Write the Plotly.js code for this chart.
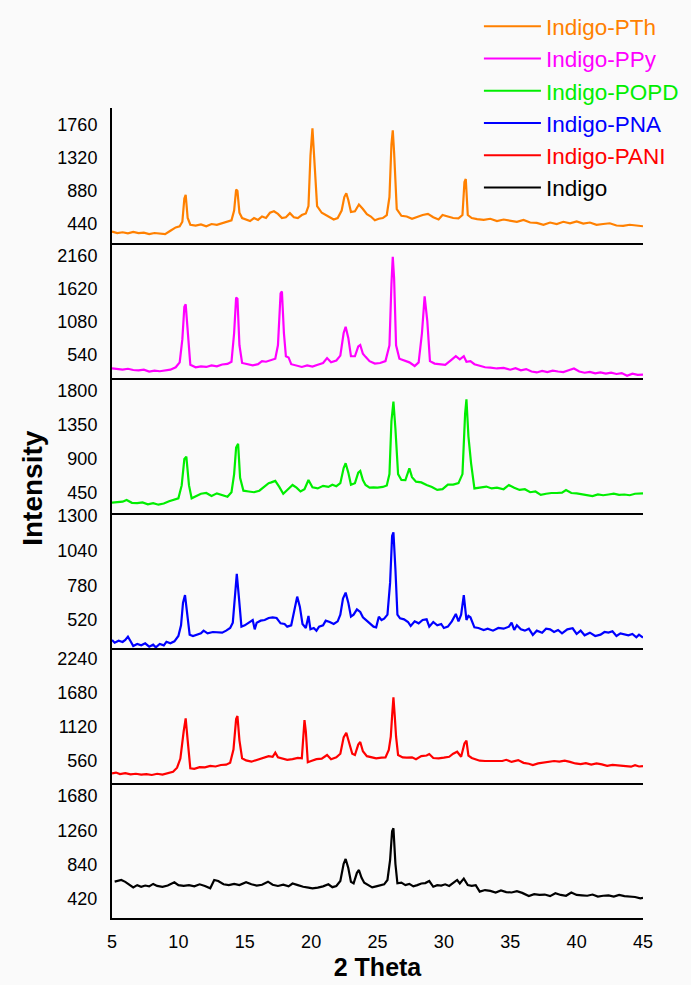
<!DOCTYPE html>
<html>
<head>
<meta charset="utf-8">
<script src="https://cdn.plot.ly/plotly-3.0.1.min.js"></script>
<style>html,body{margin:0;padding:0;background:#FAFAFA;}#chart{width:691px;height:985px;}</style>
</head>
<body>
<div id="chart"></div>
<script>
// ---- Data ----
const seriesNames = ["Indigo-PTh", "Indigo-PPy", "Indigo-POPD", "Indigo-PNA", "Indigo-PANI", "Indigo"];
const seriesColors = ["#FF8000", "#FF00FF", "#00EE00", "#0000FF", "#FF0000", "#000000"];

const xTickVals = [5, 10, 15, 20, 25, 30, 35, 40, 45];

const pthTicks = [440, 880, 1320, 1760];
const ppyTicks = [540, 1080, 1620, 2160];
const popdTicks = [450, 900, 1350, 1800];
const pnaTicks = [520, 780, 1040, 1300];
const paniTicks = [560, 1120, 1680, 2240];
const indigoTicks = [420, 840, 1260, 1680];

const pthX = [5.0,5.4,5.8,6.2,6.6,7.0,7.4,7.8,8.2,8.6,9.0,9.4,9.8,10.1,10.3,10.45,10.55,10.7,10.9,11.3,11.7,12.1,12.5,12.9,13.3,13.7,14.0,14.2,14.35,14.45,14.6,14.8,15.1,15.4,15.7,16.0,16.3,16.6,16.9,17.2,17.5,17.8,18.1,18.4,18.7,19.0,19.3,19.6,19.8,19.95,20.1,20.25,20.45,20.8,21.1,21.4,21.7,22.0,22.3,22.5,22.65,22.8,23.0,23.3,23.6,23.9,24.2,24.5,24.8,25.1,25.4,25.7,25.9,26.05,26.15,26.25,26.45,26.8,27.2,27.6,28.0,28.4,28.8,29.2,29.6,29.9,30.3,30.7,31.1,31.4,31.55,31.65,31.8,32.1,32.5,33.0,33.5,34.0,34.5,35.0,35.5,36.0,36.5,37.0,37.5,38.0,38.5,39.0,39.5,40.0,40.5,41.0,41.5,42.0,42.5,43.0,43.5,44.0,44.5,45.0];
const pthY = [340,320,330,315,335,320,325,305,320,310,305,350,395,410,470,780,830,520,430,420,435,410,440,430,455,470,490,620,900,880,590,520,505,480,520,495,540,520,590,610,575,520,530,585,530,520,560,580,680,1350,1716,1300,680,590,560,540,500,520,620,800,849,760,600,610,700,640,570,540,490,510,520,560,800,1500,1690,1400,640,550,540,510,540,560,575,530,500,560,540,520,515,560,1000,1040,560,520,505,495,510,480,500,490,470,495,460,455,430,460,440,470,450,475,445,460,430,440,450,420,415,430,425,410];

const ppyX = [5.0,5.4,5.8,6.2,6.6,7.0,7.4,7.8,8.2,8.6,9.0,9.4,9.8,10.1,10.3,10.45,10.55,10.7,10.9,11.3,11.7,12.1,12.5,12.9,13.3,13.7,14.0,14.2,14.35,14.45,14.6,14.8,15.2,15.6,16.0,16.3,16.6,17.0,17.3,17.5,17.7,17.8,17.95,18.1,18.3,18.5,18.9,19.3,19.7,20.1,20.5,20.9,21.2,21.5,21.9,22.2,22.45,22.6,22.8,23.0,23.3,23.55,23.7,23.9,24.1,24.4,24.8,25.2,25.6,25.9,26.05,26.15,26.25,26.4,26.65,27.0,27.4,27.8,28.1,28.35,28.55,28.75,28.95,29.3,29.7,30.1,30.5,30.9,31.2,31.5,31.7,32.0,32.3,32.7,33.1,33.5,34.0,34.5,35.0,35.4,35.8,36.2,36.6,37.0,37.4,37.8,38.2,38.6,39.0,39.4,39.8,40.2,40.6,41.0,41.4,41.8,42.2,42.6,43.0,43.4,43.8,44.2,44.6,45.0];
const ppyY = [322,310,300,315,295,290,300,270,285,275,290,300,340,420,800,1330,1370,900,380,340,355,345,370,355,385,395,430,900,1480,1460,700,410,390,370,390,440,430,460,480,700,1550,1580,900,520,500,390,370,345,370,350,380,410,490,420,450,530,900,1003,820,520,520,680,704,560,510,440,400,410,440,700,1700,2148,1800,700,480,450,420,360,420,900,1500,1100,440,400,390,380,450,520,470,520,430,440,390,360,340,335,320,330,300,325,290,310,270,255,280,260,285,270,260,290,320,270,250,265,240,255,235,250,230,245,200,235,215,220];

const popdX = [5.0,5.4,5.8,6.1,6.5,6.9,7.3,7.7,8.1,8.5,8.9,9.3,9.7,10.0,10.25,10.45,10.6,10.8,11.0,11.3,11.7,12.1,12.5,12.9,13.3,13.7,14.0,14.2,14.35,14.5,14.65,14.9,15.3,15.7,16.1,16.5,16.8,17.0,17.3,17.6,17.9,18.2,18.6,18.9,19.2,19.5,19.8,20.1,20.5,20.9,21.3,21.6,21.9,22.2,22.45,22.6,22.8,23.0,23.3,23.55,23.7,23.9,24.1,24.4,24.7,25.0,25.4,25.7,25.9,26.05,26.2,26.35,26.55,26.8,27.1,27.4,27.6,27.9,28.3,28.7,29.1,29.5,29.9,30.3,30.7,31.1,31.4,31.6,31.7,31.85,32.05,32.3,32.7,33.2,33.6,34.0,34.5,34.9,35.3,35.7,36.1,36.5,36.9,37.3,37.7,38.1,38.5,38.9,39.2,39.6,40.0,40.4,40.8,41.2,41.6,42.0,42.4,42.8,43.2,43.6,44.0,44.4,45.0];
const popdY = [322,330,335,357,320,315,325,300,315,295,310,340,360,380,550,900,930,550,380,410,440,450,410,445,420,400,460,700,1050,1100,650,480,470,460,480,540,580,590,610,530,440,490,556,520,470,500,622,525,510,545,530,560,540,580,780,843,720,560,580,720,741,620,556,520,525,520,530,550,700,1400,1659,1300,700,622,620,777,660,600,590,556,530,490,500,560,560,580,700,1500,1690,1200,843,510,520,535,510,520,500,556,520,490,500,460,470,424,440,450,450,455,490,450,445,430,420,410,430,420,430,440,425,430,420,440,446];

const pnaX = [5.0,5.2,5.5,5.8,6.0,6.2,6.4,6.6,6.9,7.2,7.5,7.8,8.1,8.3,8.6,8.9,9.1,9.4,9.7,10.0,10.2,10.35,10.5,10.65,10.85,11.1,11.4,11.7,11.9,12.2,12.6,13.0,13.3,13.6,13.9,14.1,14.25,14.4,14.55,14.75,15.0,15.3,15.6,15.75,15.9,16.2,16.5,16.8,17.1,17.4,17.7,18.0,18.2,18.5,18.75,18.95,19.15,19.35,19.6,19.8,19.95,20.2,20.4,20.6,20.9,21.1,21.4,21.7,22.0,22.2,22.4,22.6,22.8,23.0,23.2,23.45,23.7,23.9,24.1,24.4,24.7,24.9,25.1,25.3,25.5,25.75,25.95,26.1,26.2,26.35,26.5,26.7,27.0,27.3,27.5,27.8,28.1,28.4,28.7,28.9,29.2,29.5,29.8,30.0,30.3,30.6,30.9,31.1,31.3,31.5,31.7,31.85,32.0,32.3,32.6,33.0,33.3,33.7,34.1,34.5,34.9,35.1,35.3,35.5,35.8,36.1,36.4,36.7,37.0,37.4,37.7,38.0,38.3,38.6,38.9,39.3,39.7,40.0,40.3,40.6,41.0,41.4,41.8,42.1,42.4,42.7,43.0,43.3,43.6,43.9,44.2,44.5,44.7,45.0];
const pnaY = [370,350,365,355,370,395,360,325,340,330,345,320,335,315,340,330,357,345,360,400,480,650,707,580,410,400,410,420,440,420,430,430,425,440,460,500,720,865,700,470,480,500,520,450,500,515,520,535,540,535,495,490,470,480,600,695,620,490,460,550,450,460,440,470,480,515,505,490,510,560,680,725,650,545,560,600,580,540,523,495,470,465,545,520,530,560,800,1150,1177,900,560,532,525,505,475,510,495,520,525,470,505,480,490,460,470,510,565,510,560,707,520,550,540,465,460,445,455,440,460,455,470,500,445,480,450,440,455,408,440,425,455,450,430,445,420,450,458,415,440,405,425,400,410,430,425,435,400,420,410,405,415,390,410,388];

const paniX = [5.0,5.3,5.6,6.0,6.4,6.8,7.2,7.6,8.0,8.4,8.8,9.2,9.6,9.9,10.15,10.4,10.55,10.7,10.9,11.2,11.6,12.0,12.4,12.8,13.2,13.6,13.9,14.15,14.35,14.45,14.6,14.8,15.1,15.5,15.9,16.2,16.5,16.8,17.1,17.3,17.5,17.8,18.2,18.6,19.0,19.3,19.4,19.5,19.6,19.75,20.0,20.4,20.8,21.2,21.5,21.9,22.2,22.45,22.65,22.85,23.1,23.3,23.55,23.7,23.9,24.2,24.6,24.9,25.3,25.6,25.85,26.0,26.1,26.2,26.3,26.4,26.55,26.9,27.2,27.6,27.9,28.3,28.7,28.9,29.2,29.6,30.0,30.4,30.7,31.0,31.3,31.55,31.7,31.85,32.1,32.4,32.7,33.1,33.6,34.0,34.4,34.7,35.1,35.6,36.0,36.4,36.7,37.1,37.5,37.9,38.3,38.7,39.1,39.5,39.9,40.3,40.7,41.1,41.5,41.9,42.3,42.7,43.1,43.5,43.9,44.1,44.4,44.7,45.0];
const paniY = [357,370,345,360,340,350,335,345,330,350,335,360,384,450,600,1050,1263,900,440,430,460,455,480,470,494,500,530,750,1250,1301,900,604,570,549,580,605,620,640,630,697,620,600,580,590,610,604,1000,1235,1050,540,560,590,600,659,590,620,680,950,1026,850,680,659,830,873,720,640,620,604,615,620,741,960,1300,1609,1300,960,659,620,615,620,590,640,650,675,610,605,615,630,680,713,630,850,894,650,610,590,565,560,560,550,560,580,545,575,530,515,494,520,530,545,560,550,565,545,520,510,525,500,520,505,480,495,485,480,470,466,490,470,477];

const indigoX = [5.2,5.5,5.7,6.0,6.3,6.6,6.9,7.2,7.5,7.8,8.1,8.4,8.8,9.2,9.7,10.0,10.4,10.8,11.2,11.6,12.0,12.4,12.7,13.0,13.4,13.8,14.2,14.6,15.1,15.5,15.9,16.3,16.75,17.1,17.5,17.9,18.3,18.6,19.0,19.4,19.8,20.1,20.5,20.9,21.3,21.6,21.9,22.2,22.45,22.6,22.8,23.0,23.2,23.45,23.6,23.8,24.0,24.3,24.6,24.9,25.2,25.5,25.75,25.95,26.1,26.2,26.35,26.5,26.8,27.1,27.4,27.7,28.0,28.3,28.6,28.9,29.2,29.5,29.8,30.1,30.4,30.7,31.0,31.2,31.5,31.8,32.1,32.4,32.7,33.1,33.5,33.9,34.3,34.7,35.1,35.5,35.9,36.4,36.8,37.2,37.6,38.0,38.4,38.8,39.2,39.6,40.0,40.4,40.8,41.2,41.6,42.0,42.4,42.8,43.2,43.6,44.0,44.4,44.8,45.0];
const indigoY = [632,640,653,630,600,563,590,570,585,575,605,580,570,585,625,590,580,590,575,600,580,551,653,640,600,590,605,590,625,600,585,595,632,595,580,595,575,610,590,570,560,551,560,575,600,565,580,640,850,910,800,630,612,740,775,680,620,590,563,575,590,600,653,900,1250,1285,850,612,620,590,605,575,590,610,615,640,570,590,585,600,580,620,653,610,669,590,580,590,510,530,520,500,525,505,500,515,495,457,480,470,475,455,490,470,460,500,470,465,460,475,450,460,465,450,470,455,450,445,428,435];

// ---- Build figure ----
const seriesX = [pthX, ppyX, popdX, pnaX, paniX, indigoX];
const seriesY = [pthY, ppyY, popdY, pnaY, paniY, indigoY];
const seriesTicks = [pthTicks, ppyTicks, popdTicks, pnaTicks, paniTicks, indigoTicks];
const yRanges = [[187, 1987], [164, 2373], [185, 1972], [310, 1322], [198, 2421], [188, 1839]];

const FONT = "Liberation Sans, Arial, Helvetica, sans-serif";
const traces = [];
const layout = {
  width: 691, height: 985,
  margin: {l: 112, r: 48, t: 108, b: 67, autoexpand: false},
  paper_bgcolor: "#FAFAFA",
  plot_bgcolor: "#FAFAFA",
  font: {family: FONT, size: 18, color: "#000"},
  showlegend: true,
  legend: {
    x: 0.691, xanchor: "left", y: 1.127, yanchor: "top",
    bgcolor: "rgba(0,0,0,0)", borderwidth: 0,
    font: {family: FONT, size: 22.5, color: "#000"},
    itemwidth: 57, tracegroupgap: 0
  },
  annotations: [{
    text: "<b>Intensity</b>", textangle: -90, showarrow: false,
    xref: "paper", yref: "paper", x: -0.149, y: 0.531,
    xanchor: "center", yanchor: "middle",
    font: {family: FONT, size: 28, color: "#000"}
  }]
};

for (let i = 0; i < 6; i++) {
  const sfx = i === 0 ? "" : String(i + 1);
  traces.push({
    x: seriesX[i], y: seriesY[i], type: "scatter", mode: "lines",
    name: '<span style="color:' + seriesColors[i] + '">' + seriesNames[i] + '</span>',
    line: {color: seriesColors[i], width: 2.2},
    xaxis: "x" + sfx, yaxis: "y" + sfx
  });
  const isBottom = i === 5;
  layout["xaxis" + sfx] = {
    anchor: "y" + sfx, range: [5, 45],
    showline: true, linecolor: "#000", linewidth: 2,
    showgrid: false, zeroline: false, ticks: "",
    tickmode: "array", tickvals: xTickVals,
    showticklabels: isBottom,
    tickfont: {size: 18, color: "#000"},
    ticklabelstandoff: 6,
    title: isBottom ? {text: "<b>2 Theta</b>", font: {size: 25, color: "#000"}, standoff: 8} : {text: ""}
  };
  layout["yaxis" + sfx] = {
    anchor: "x" + sfx,
    domain: [1 - (i + 1) / 6, 1 - i / 6],
    range: yRanges[i],
    showline: true, linecolor: "#000", linewidth: 2,
    showgrid: false, zeroline: false, ticks: "",
    tickmode: "array", tickvals: seriesTicks[i],
    tickfont: {size: 18, color: "#000"},
    ticklabelstandoff: 9
  };
}

Plotly.newPlot("chart", traces, layout, {displayModeBar: false, staticPlot: true});
</script>
</body>
</html>
